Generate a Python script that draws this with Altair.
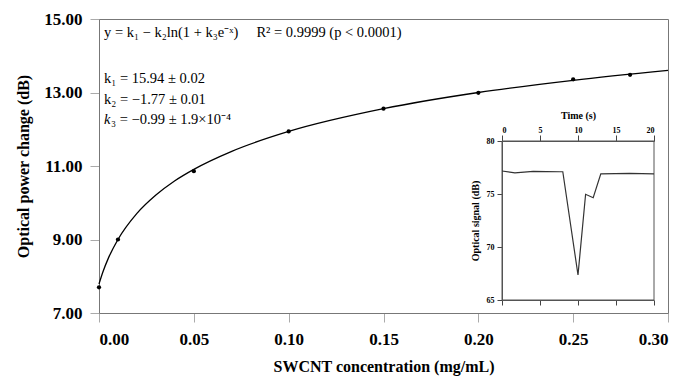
import altair as alt
import pandas as pd

# ---- data ----
conc = [0.0, 0.01, 0.05, 0.10, 0.15, 0.20, 0.25, 0.28]
power = [7.70, 9.00, 10.86, 11.94, 12.56, 12.99, 13.36, 13.48]

fit_x = [0.0, 0.002, 0.005, 0.01, 0.02, 0.03, 0.04, 0.05, 0.07, 0.10, 0.15, 0.20, 0.25, 0.30]
fit_y = [7.79, 8.11, 8.50, 9.00, 9.71, 10.21, 10.60, 10.91, 11.40, 11.94, 12.56, 13.00, 13.33, 13.60]

time_s = [0.0, 1.7, 4.1, 7.6, 8.0, 10.0, 11.0, 12.0, 13.0, 16.8, 20.0]
signal_db = [77.17, 77.0, 77.14, 77.1, 77.1, 67.36, 74.97, 74.65, 76.9, 76.95, 76.9]

x_ticks = [0.0, 0.05, 0.10, 0.15, 0.20, 0.25, 0.30]
y_ticks = [7, 9, 11, 13, 15]
t_ticks = [0, 5, 10, 15, 20]
s_ticks = [65, 70, 75, 80]

NB = "\u00a0"
eq_lines = [
    "y = k\u2081 \u2212 k\u2082ln(1 + k\u2083e\u207b\u02e3)" + NB * 5 + "R\u00b2 = 0.9999 (p < 0.0001)",
    "k\u2081 = 15.94 \u00b1 0.02",
    "k\u2082 = \u22121.77 \u00b1 0.01",
    "\u2083 = \u22120.99 \u00b1 1.9\u00d710\u207b\u2074",
]
k3_symbol = ["k"]

W, H = 569, 294
FONT = "Liberation Serif"

fit_df = pd.DataFrame({"x": fit_x, "y": fit_y})
pt_df = pd.DataFrame({"x": conc, "y": power})
ins_df = pd.DataFrame({"t": time_s, "s": signal_db})
frame_df = pd.DataFrame({"t0": [t_ticks[0]], "t1": [t_ticks[-1]], "s0": [s_ticks[0]], "s1": [s_ticks[-1]]})

xs = alt.Scale(domain=[0, 0.3], nice=False, zero=False)
ys = alt.Scale(domain=[7, 15], nice=False, zero=False)
ts = alt.Scale(domain=[0, 20], nice=False, range=[403, 555])
ss = alt.Scale(domain=[65, 80], nice=False, zero=False, range=[281, 122])

main_x_axis = alt.Axis(values=x_ticks, format=".2f", title="SWCNT concentration (mg/mL)",
                       labelFont=FONT, labelFontSize=17, labelFontWeight="bold", labelColor="black",
                       titleFont=FONT, titleFontSize=16, titleFontWeight="bold", titleColor="black",
                       tickSize=9, tickColor="#aaa", domainColor="#777", labelPadding=9,
                       titlePadding=11, grid=False)
main_y_axis = alt.Axis(values=y_ticks, format=".2f", title="Optical power change (dB)",
                       labelFont=FONT, labelFontSize=17, labelFontWeight="bold", labelColor="black",
                       titleFont=FONT, titleFontSize=16, titleFontWeight="bold", titleColor="black",
                       tickSize=9, tickColor="#aaa", domainColor="#777", labelPadding=8,
                       titlePadding=12, grid=False)

curve = alt.Chart(fit_df).mark_line(color="black", strokeWidth=1.3, interpolate="monotone").encode(
    x=alt.X("x:Q", scale=xs, axis=main_x_axis),
    y=alt.Y("y:Q", scale=ys, axis=main_y_axis),
)
points = alt.Chart(pt_df).mark_point(filled=True, color="black", size=18, opacity=1).encode(
    x=alt.X("x:Q", scale=xs, axis=None),
    y=alt.Y("y:Q", scale=ys, axis=None),
)

frame = alt.Chart(frame_df).mark_rect(fillOpacity=0, stroke="#555", strokeWidth=1).encode(
    x=alt.X("t0:Q", scale=ts, axis=alt.Axis(orient="bottom", offset=-(H - 281), values=t_ticks,
                                            labels=False, title=None, tickSize=5, tickColor="#444",
                                            domainColor="#555", grid=False)),
    x2="t1:Q",
    y=alt.Y("s0:Q", scale=ss, axis=None),
    y2="s1:Q",
)

inset = alt.Chart(ins_df).mark_line(color="#333", strokeWidth=1.2).encode(
    x=alt.X("t:Q", scale=ts, axis=alt.Axis(orient="top", offset=-122, values=t_ticks, title="Time (s)",
                                           labelFont=FONT, labelFontSize=8, labelFontWeight="bold",
                                           labelColor="black", titleFont=FONT, titleFontSize=10,
                                           titleFontWeight="bold", titleColor="black", tickSize=6,
                                           tickColor="#444", domainColor="#555", labelPadding=1,
                                           titlePadding=6, grid=False)),
    y=alt.Y("s:Q", scale=ss, axis=alt.Axis(orient="left", offset=-403, values=s_ticks,
                                           title="Optical signal (dB)", labelFont=FONT, labelFontSize=8,
                                           labelFontWeight="bold", labelColor="black", titleFont=FONT,
                                           titleFontSize=10, titleFontWeight="bold", titleColor="black",
                                           tickSize=5, tickColor="#444", domainColor="#555",
                                           labelPadding=3, titlePadding=6, grid=False)),
)

text_pos = [(5, 14), (5, 60), (5, 81), (12, 101)]
texts = []
for line, (tx, ty) in zip(eq_lines, text_pos):
    texts.append(
        alt.Chart(pd.DataFrame({"label": [line]})).mark_text(
            align="left", baseline="middle", font=FONT, fontSize=14.5, color="black"
        ).encode(x=alt.value(tx), y=alt.value(ty), text="label:N")
    )
texts.append(
    alt.Chart(pd.DataFrame({"label": k3_symbol})).mark_text(
        align="left", baseline="middle", font=FONT, fontSize=14.5, fontStyle="italic", color="black"
    ).encode(x=alt.value(5), y=alt.value(101), text="label:N")
)

chart = alt.layer(curve, points, frame, inset, *texts).resolve_scale(
    x="independent", y="independent"
).properties(
    width=W, height=H,
    autosize=alt.AutoSizeParams(type="none"),
    padding={"left": 91, "top": 11, "right": 8, "bottom": 63},
    background="white",
).configure_view(stroke="#777", strokeWidth=1)

chart.save("out.html", embed_options={"renderer": "svg", "actions": False})
